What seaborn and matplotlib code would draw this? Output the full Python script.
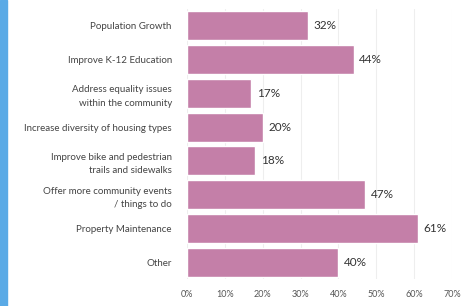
import matplotlib
matplotlib.use("Agg")
import matplotlib.pyplot as plt
import seaborn as sns
import pandas as pd
from matplotlib.patches import Rectangle

categories = [
    "Population Growth",
    "Improve K-12 Education",
    "Address equality issues\nwithin the community",
    "Increase diversity of housing types",
    "Improve bike and pedestrian\ntrails and sidewalks",
    "Offer more community events\n/ things to do",
    "Property Maintenance",
    "Other",
]
values = [32, 44, 17, 20, 18, 47, 61, 40]
xticks = [0, 10, 20, 30, 40, 50, 60, 70]
xtick_labels = ["0%", "10%", "20%", "30%", "40%", "50%", "60%", "70%"]

df = pd.DataFrame({"cat": categories, "val": values})

sns.set_theme(style="white")
plt.rcParams["font.family"] = ["Lato", "DejaVu Sans"]

fig = plt.figure(figsize=(4.63, 3.06), dpi=100)
ax = fig.add_axes([0.404, 0.088, 0.572, 0.883])

sns.barplot(data=df, x="val", y="cat", color="#c47fa8", saturation=1,
            width=0.86, ax=ax, orient="h")

ax.set_xlim(0, 70)
ax.set_ylim(7.5, -0.5)
ax.set_xticks(xticks)
ax.set_xticklabels(xtick_labels, fontsize=6.5, color="#555555")
ax.tick_params(axis="y", labelsize=7, labelcolor="#444444", pad=11, length=0)
ax.tick_params(axis="x", length=0, pad=8)
for lbl in ax.get_yticklabels():
    lbl.set_multialignment("right")
    lbl.set_linespacing(1.6)
ax.set_xlabel("")
ax.set_ylabel("")
for s in ax.spines.values():
    s.set_visible(False)
ax.xaxis.grid(True, color="#eeeeee", linewidth=0.8)
ax.set_axisbelow(True)

for i, v in enumerate(values):
    ax.text(v + 1.5, i, f"{v}%", va="center", ha="left", fontsize=8.5, color="#333333")

fig.patches.append(Rectangle((0, 0), 7 / 463, 1, transform=fig.transFigure,
                             color="#5aaae6", zorder=0))

fig.savefig("out.png", dpi=100)
